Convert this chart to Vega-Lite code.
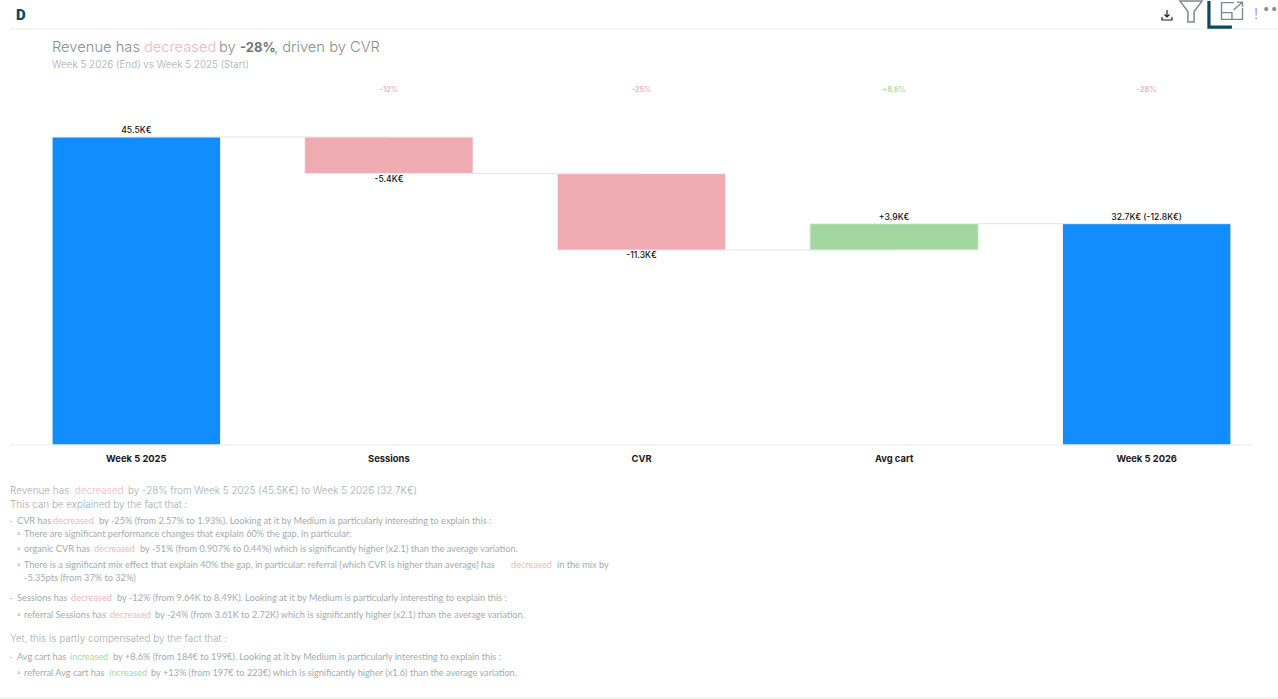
{"$schema":"https://vega.github.io/schema/vega-lite/v6.json","width":1278,"height":699,"padding":0,"autosize":"none","background":"#ffffff","config":{"view":{"stroke":null},"font":"Inter"},
"datasets":{
"bars":[
{"step":"Week 5 2025","next":"Sessions","start":0,"end":45.5,"kind":"total","label":"45.5K€"},
{"step":"Sessions","next":"CVR","start":45.5,"end":40.1,"kind":"down","label":"-5.4K€","pct":"-12%"},
{"step":"CVR","next":"Avg cart","start":40.1,"end":28.8,"kind":"down","label":"-11.3K€","pct":"-25%"},
{"step":"Avg cart","next":"Week 5 2026","start":28.8,"end":32.7,"kind":"up","label":"+3.9K€","pct":"+8.6%"},
{"step":"Week 5 2026","start":0,"end":32.7,"kind":"total","label":"32.7K€ (-12.8K€)","pct":"-28%","pctKind":"down"}],
"rules":[{"line":4,"col":1,"colEnd":34},{"line":7,"col":1,"colEnd":30},{"line":20,"col":0,"colEnd":34}],
"icons":[{"line":3,"col":26,"icon":"download"},{"line":2,"col":27,"icon":"funnel"},{"line":3,"col":28,"icon":"corner"},{"line":2,"col":29,"icon":"expand"}],
"notes":[
{"line":3,"col":2,"text":"D","block":"logo","tone":"teal"},
{"line":3,"col":31,"text":"!","block":"head","tone":"head"},
{"line":1,"col":32,"text":"•","block":"head","tone":"head"},
{"line":1,"col":33,"text":"•","block":"head","tone":"head"},
{"line":5,"col":5,"text":"Revenue has","block":"head","tone":"head"},
{"line":5,"col":18,"text":"decreased","block":"head","tone":"down"},
{"line":5,"col":21,"text":"by","block":"head","tone":"head"},
{"line":5,"col":22,"text":"-28%","block":"bold","tone":"bold"},
{"line":5,"col":23,"text":", driven by CVR","block":"head","tone":"head"},
{"line":6,"col":5,"text":"Week 5 2026 (End) vs Week 5 2025 (Start)","block":"sub","tone":"body"},
{"line":8,"col":1,"text":"Revenue has","block":"lead","tone":"body"},
{"line":8,"col":9,"text":"decreased","block":"lead","tone":"down"},
{"line":8,"col":16,"text":"by -28% from Week 5 2025 (45.5K€) to Week 5 2026 (32.7K€)","block":"lead","tone":"body"},
{"line":9,"col":1,"text":"This can be explained by the fact that :","block":"lead","tone":"body"},
{"line":10,"col":1,"text":"·","block":"body","tone":"body"},
{"line":10,"col":3,"text":"CVR has","block":"body","tone":"body"},
{"line":10,"col":6,"text":"decreased","block":"body","tone":"down"},
{"line":10,"col":11,"text":"by -25% (from 2.57% to 1.93%). Looking at it by Medium is particularly interesting to explain this :","block":"body","tone":"body"},
{"line":11,"col":3,"text":"◦","block":"body","tone":"body"},
{"line":11,"col":4,"text":"There are significant performance changes that explain 60% the gap, in particular:","block":"body","tone":"body"},
{"line":12,"col":3,"text":"◦","block":"body","tone":"body"},
{"line":12,"col":4,"text":"organic CVR has","block":"body","tone":"body"},
{"line":12,"col":10,"text":"decreased","block":"body","tone":"down"},
{"line":12,"col":17,"text":"by -51% (from 0.907% to 0.44%) which is significantly higher (x2.1) than the average variation.","block":"body","tone":"body"},
{"line":13,"col":3,"text":"◦","block":"body","tone":"body"},
{"line":13,"col":4,"text":"There is a significant mix effect that explain 40% the gap, in particular: referral (which CVR is higher than average) has","block":"body","tone":"body"},
{"line":13,"col":24,"text":"decreased","block":"body","tone":"down"},
{"line":13,"col":25,"text":"in the mix by","block":"body","tone":"body"},
{"line":14,"col":4,"text":"-5.35pts (from 37% to 32%)","block":"body","tone":"body"},
{"line":15,"col":1,"text":"·","block":"body","tone":"body"},
{"line":15,"col":3,"text":"Sessions has","block":"body","tone":"body"},
{"line":15,"col":8,"text":"decreased","block":"body","tone":"down"},
{"line":15,"col":15,"text":"by -12% (from 9.64K to 8.49K). Looking at it by Medium is particularly interesting to explain this :","block":"body","tone":"body"},
{"line":16,"col":3,"text":"◦","block":"body","tone":"body"},
{"line":16,"col":4,"text":"referral Sessions has","block":"body","tone":"body"},
{"line":16,"col":13,"text":"decreased","block":"body","tone":"down"},
{"line":16,"col":20,"text":"by -24% (from 3.61K to 2.72K) which is significantly higher (x2.1) than the average variation.","block":"body","tone":"body"},
{"line":17,"col":1,"text":"Yet, this is partly compensated by the fact that :","block":"lead","tone":"body"},
{"line":18,"col":1,"text":"·","block":"body","tone":"body"},
{"line":18,"col":3,"text":"Avg cart has","block":"body","tone":"body"},
{"line":18,"col":7,"text":"increased","block":"body","tone":"up"},
{"line":18,"col":14,"text":"by +8.6% (from 184€ to 199€). Looking at it by Medium is particularly interesting to explain this :","block":"body","tone":"body"},
{"line":19,"col":3,"text":"◦","block":"body","tone":"body"},
{"line":19,"col":4,"text":"referral Avg cart has","block":"body","tone":"body"},
{"line":19,"col":12,"text":"increased","block":"body","tone":"up"},
{"line":19,"col":19,"text":"by +13% (from 197€ to 223€) which is significantly higher (x1.6) than the average variation.","block":"body","tone":"body"}
]},
"layer":[
{"data":{"name":"bars"},
"encoding":{
"x":{"field":"step","type":"nominal","sort":null,"title":null,"scale":{"domain":["Week 5 2025","Sessions","CVR","Avg cart","Week 5 2026"],"range":[10,1273],"paddingInner":0.3333,"paddingOuter":0.1667},
"axis":{"orient":"bottom","offset":-254,"domain":false,"ticks":false,"labelAngle":0,"labelPadding":9,"labelFont":"Inter","labelFontSize":9.4,"labelFontWeight":"bold","labelColor":"#1a1a1a"}},
"y":{"field":"end","type":"quantitative","title":null,"axis":null,"scale":{"domain":[-37.52,65.74],"nice":false,"zero":false}}},
"layer":[
{"mark":{"type":"rule","stroke":"#e4e4e4","strokeWidth":1},"transform":[{"filter":"isValid(datum.next)"}],"encoding":{"x2":{"field":"next"}}},
{"mark":{"type":"bar","stroke":"#f1f1f1","strokeWidth":1},"encoding":{"y2":{"field":"start"},"color":{"field":"kind","type":"nominal","legend":null,"scale":{"domain":["total","down","up"],"range":["#118dff","#efabb2","#a3d79f"]}}}},
{"mark":{"type":"text","font":"Inter","fontSize":8.6,"fontWeight":500,"color":"#111111","baseline":"bottom","dy":-2},"transform":[{"filter":"datum.kind!='down'"}],"encoding":{"text":{"field":"label"}}},
{"mark":{"type":"text","font":"Inter","fontSize":8.6,"fontWeight":500,"color":"#111111","baseline":"top","dy":1},"transform":[{"filter":"datum.kind=='down'"}],"encoding":{"text":{"field":"label"}}},
{"mark":{"type":"text","font":"Inter","fontSize":7.2,"fontWeight":700,"opacity":0.85,"baseline":"middle"},"transform":[{"filter":"isValid(datum.pct)"},{"calculate":"datum.pctKind||datum.kind","as":"pctColor"}],"encoding":{"y":{"datum":52.5},"text":{"field":"pct"},"color":{"field":"pctColor","type":"nominal","legend":null}}}
]},
{"encoding":{
"x":{"field":"col","type":"quantitative","axis":null,"scale":{"domain":[0,1,2,3,4,5,6,7,8,9,10,11,12,13,14,15,16,17,18,19,20,21,22,23,24,25,26,27,28,29,30,31,32,33,34],"range":[0,10,16,17,24,52,53,70,71,75,94,99,109,110,113,117,128,140,144,151,155,219,240,274,511,557,1167,1191,1220,1232,1252,1254,1262,1270,1278],"nice":false,"zero":false}},
"y":{"field":"line","type":"quantitative","axis":null,"scale":{"domain":[1,2,3,4,5,6,7,8,9,10,11,12,13,14,15,16,17,18,19,20],"range":[9,11,15,29,48,65,445,491,505,521,534,549,565,578,598,615,639,657,673,698],"nice":false,"zero":false}},
"color":{"field":"tone","type":"nominal","legend":null,"scale":{"domain":["head","bold","body","down","up","teal"],"range":["#858f91","#6d7779","#a3acae","#f2b6bc","#a8d9a4","#0b4a5c"]}},
"text":{"field":"text"}},
"layer":[
{"data":{"name":"rules"},"mark":{"type":"rule","strokeWidth":1},"encoding":{"x2":{"field":"colEnd"},"color":{"value":"#ebebeb"},"text":{"value":""}}},
{"data":{"name":"icons"},"transform":[{"filter":"datum.icon=='download'"}],"mark":{"type":"point","filled":false,"opacity":1,"size":100,"strokeWidth":1.2,"shape":"M0,-1 L0,0.3 M-0.5,-0.1 L0,0.4 L0.5,-0.1 M-1,0.4 L-1,1 L1,1 L1,0.4"},"encoding":{"color":{"value":"#222222"},"text":{"value":""}}},
{"data":{"name":"icons"},"transform":[{"filter":"datum.icon=='funnel'"}],"mark":{"type":"point","filled":false,"opacity":1,"size":484,"strokeWidth":1.5,"shape":"M-1,-0.9 L1,-0.9 L0.28,0.05 L0.28,1 L-0.28,1 L-0.28,0.05 Z"},"encoding":{"color":{"value":"#7f8a8a"},"text":{"value":""}}},
{"data":{"name":"icons"},"transform":[{"filter":"datum.icon=='corner'"}],"mark":{"type":"point","filled":false,"opacity":1,"size":784,"strokeWidth":3.2,"shape":"M-0.79,-1 L-0.79,0.86 L0.85,0.86"},"encoding":{"color":{"value":"#0b4a5c"},"text":{"value":""}}},
{"data":{"name":"icons"},"transform":[{"filter":"datum.icon=='expand'"}],"mark":{"type":"point","filled":false,"opacity":1,"size":441,"strokeWidth":1.4,"shape":"M1,-0.3 L1,0.8 L-1,0.8 L-1,-0.8 L0.2,-0.8 M-1,0.15 L0,0.15 L0,0.8 M0.15,-0.1 L1,-0.85 M0.45,-0.85 L1,-0.85 L1,-0.4"},"encoding":{"color":{"value":"#7f8a8a"},"text":{"value":""}}},
{"data":{"name":"notes"},"transform":[{"filter":"datum.block=='logo'"}],"mark":{"type":"text","align":"left","baseline":"middle","font":"Roboto","fontSize":15,"fontWeight":900}},
{"data":{"name":"notes"},"transform":[{"filter":"datum.block=='head'"}],"mark":{"type":"text","align":"left","baseline":"middle","font":"Inter","fontSize":14.7,"fontWeight":300}},
{"data":{"name":"notes"},"transform":[{"filter":"datum.block=='bold'"}],"mark":{"type":"text","align":"left","baseline":"middle","font":"Inter","fontSize":13,"fontWeight":700}},
{"data":{"name":"notes"},"transform":[{"filter":"datum.block=='sub'"}],"mark":{"type":"text","align":"left","baseline":"middle","font":"Inter","fontSize":9.9,"fontWeight":300}},
{"data":{"name":"notes"},"transform":[{"filter":"datum.block=='lead'"}],"mark":{"type":"text","align":"left","baseline":"middle","font":"Inter","fontSize":9.9,"fontWeight":300}},
{"data":{"name":"notes"},"transform":[{"filter":"datum.block=='body'"}],"mark":{"type":"text","align":"left","baseline":"middle","font":"Lato","fontSize":9.2}}
]}
],
"resolve":{"scale":{"x":"independent","y":"independent","color":"independent"},"axis":{"x":"independent","y":"independent"}}
}
